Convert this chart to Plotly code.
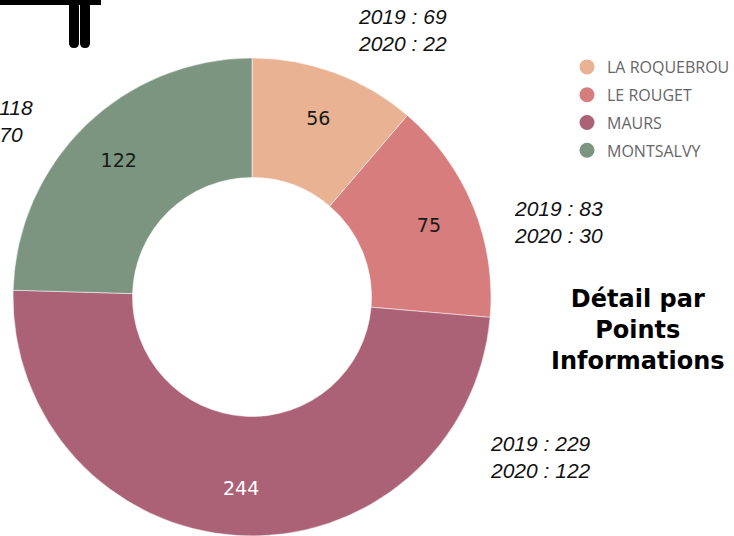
import plotly.graph_objects as go

W, H = 734, 536

labels = ["LA ROQUEBROU", "LE ROUGET", "MAURS", "MONTSALVY"]
values_total = [56, 75, 244, 122]
values_2019 = [69, 83, 229, 118]
values_2020 = [22, 30, 122, 70]
colors = ["#E9B393", "#D87D7E", "#AC6276", "#7B9580"]
text_colors = ["#1a1a1a", "#1a1a1a", "#ffffff", "#1a1a1a"]
title_text = "Détail par<br>Points<br>Informations"

fig = go.Figure()

pie_domain = dict(x=[13 / W, 491 / W], y=[0, 1 - 58 / H])

# donut (colored ring)
fig.add_trace(go.Pie(
    labels=labels,
    values=values_total,
    hole=0.5,
    sort=False,
    direction="clockwise",
    rotation=0,
    marker=dict(colors=colors, line=dict(color="rgba(255,255,255,0.5)", width=1)),
    textinfo="none",
    showlegend=False,
    domain=pie_domain,
))

# value labels, placed on the outer part of the ring (transparent overlay)
fig.add_trace(go.Pie(
    labels=labels,
    values=values_total,
    hole=0.6,
    sort=False,
    direction="clockwise",
    rotation=0,
    marker=dict(colors=["rgba(0,0,0,0)"] * len(labels), line=dict(width=0)),
    textinfo="value",
    textposition="inside",
    insidetextorientation="horizontal",
    textfont=dict(family="DejaVu Sans, Verdana", size=19, color=text_colors),
    showlegend=False,
    hoverinfo="skip",
    domain=pie_domain,
))

# legend entries (circle markers)
for i, (lab, col) in enumerate(zip(labels, colors)):
    fig.add_trace(go.Scatter(
        x=[None], y=[None], mode="markers", name=lab,
        marker=dict(color=col, size=15, symbol="circle"),
        legendgroup=f"g{i}", showlegend=True,
    ))

def px(x):
    return x / W

def py(y):
    return 1 - y / H

# per-year annotations (positions of each slice's label)
ann_pos = [
    (356, 30, "left"),
    (512, 222, "left"),
    (488, 457, "left"),
    (35, 121, "right"),
]
annotations = []
for (x, y, anchor), v19, v20 in zip(ann_pos, values_2019, values_2020):
    annotations.append(dict(
        x=px(x), y=py(y), xref="paper", yref="paper",
        xanchor=anchor, yanchor="middle", align="left",
        text=f"<i>2019 : {v19}<br>2020 : {v20}</i>",
        showarrow=False,
        font=dict(family="Liberation Sans, Arial", size=21, color="#111111"),
    ))

annotations.append(dict(
    x=px(638), y=py(330), xref="paper", yref="paper",
    xanchor="center", yanchor="middle", align="center",
    text=f"<b>{title_text}</b>", showarrow=False,
    font=dict(family="DejaVu Sans, Verdana", size=24, color="#000000"),
))

# clipped black glyph at top-left
shapes = [
    dict(type="rect", xref="paper", yref="paper",
         x0=px(-2), x1=px(101), y0=py(5), y1=py(-2),
         fillcolor="black", line=dict(width=0)),
]
for xl, xr in [(69, 79), (80, 90)]:
    r = (xr - xl) / 2
    path = (f"M {px(xl)},{py(0)} L {px(xl)},{py(43)} "
            f"Q {px(xl)},{py(48)} {px(xl + r)},{py(48)} "
            f"Q {px(xr)},{py(48)} {px(xr)},{py(43)} "
            f"L {px(xr)},{py(0)} Z")
    shapes.append(dict(type="path", xref="paper", yref="paper", path=path,
                       fillcolor="black", line=dict(width=0)))

fig.update_layout(
    width=W, height=H,
    margin=dict(l=0, r=0, t=0, b=0, pad=0, autoexpand=False),
    paper_bgcolor="white", plot_bgcolor="white",
    xaxis=dict(visible=False), yaxis=dict(visible=False),
    legend=dict(
        x=px(567), y=py(50), xanchor="left", yanchor="top",
        font=dict(family="Open Sans, DejaVu Sans", size=16, color="#666666"),
        tracegroupgap=4, itemwidth=30, bgcolor="rgba(0,0,0,0)",
    ),
    annotations=annotations,
    shapes=shapes,
)

fig.write_html("out.html", config={"displayModeBar": False},
               post_script="document.body.style.margin='0';")
